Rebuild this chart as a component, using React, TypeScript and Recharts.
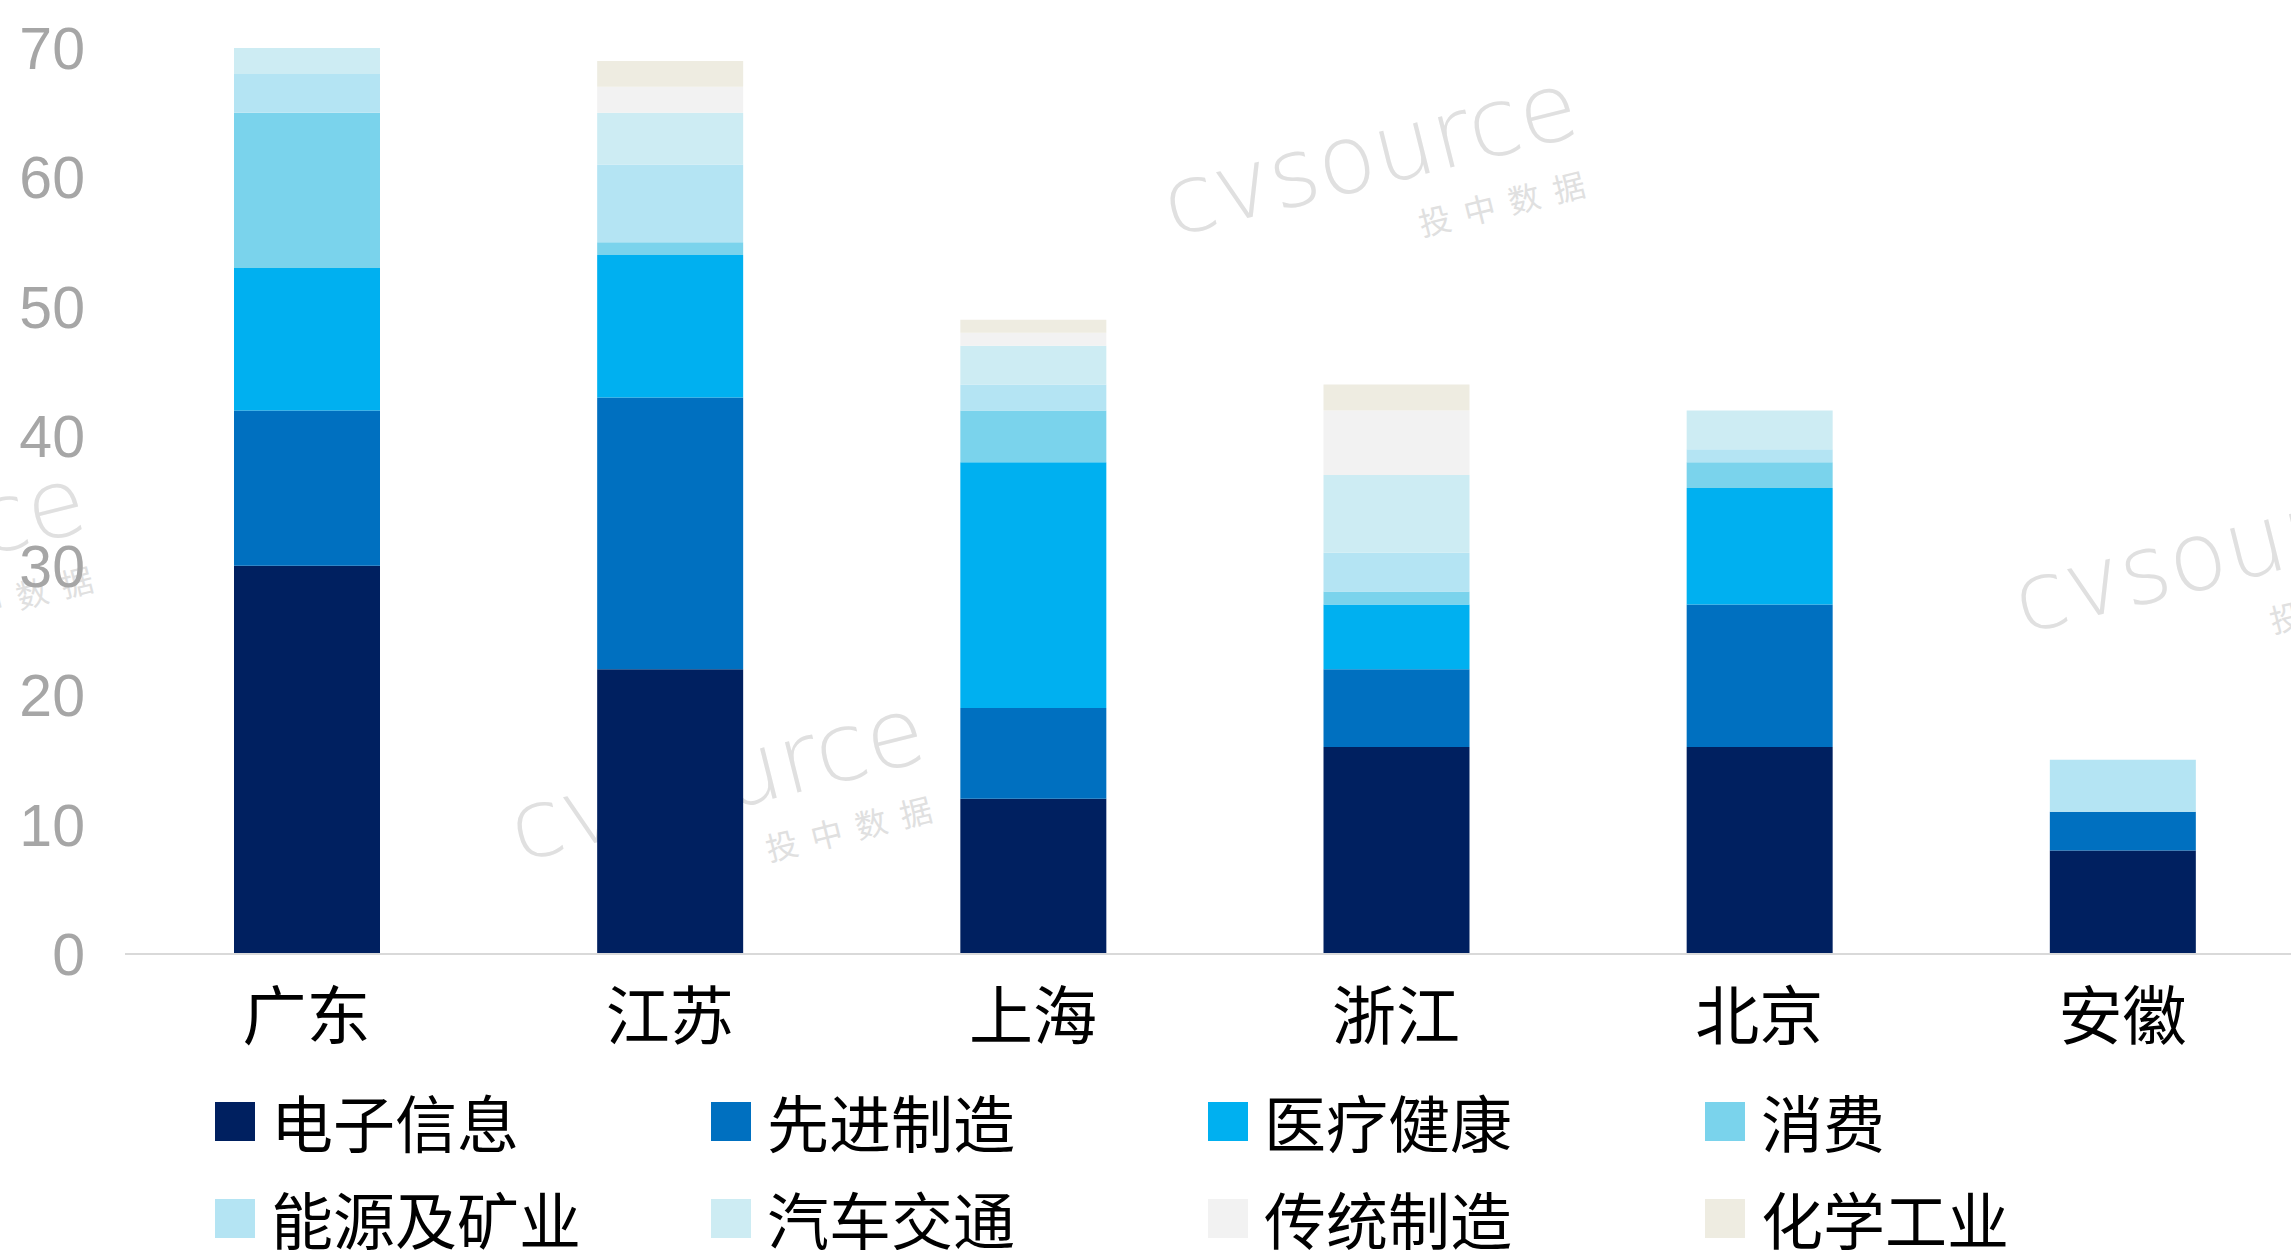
import React from 'react';
import { BarChart, Bar, XAxis, YAxis } from 'recharts';

const categories = ['广东', '江苏', '上海', '浙江', '北京', '安徽'];
const electronic = [30, 22, 12, 16, 16, 8];
const advanced = [12, 21, 7, 6, 11, 3];
const medical = [11, 11, 19, 5, 9, 0];
const consumer = [12, 1, 4, 1, 2, 0];
const energy = [3, 6, 2, 3, 1, 4];
const autoTraffic = [2, 4, 3, 6, 3, 0];
const traditional = [0, 2, 1, 5, 0, 0];
const chemical = [0, 2, 1, 2, 0, 0];
const yTicks = [0, 10, 20, 30, 40, 50, 60, 70];

const seriesNames = ['电子信息', '先进制造', '医疗健康', '消费', '能源及矿业', '汽车交通', '传统制造', '化学工业'];
const seriesValues = [electronic, advanced, medical, consumer, energy, autoTraffic, traditional, chemical];
const seriesColors = ['#002060', '#0070c0', '#00b0f0', '#7ad3ec', '#b4e4f3', '#cdecf3', '#f2f2f2', '#eeece1'];

const data = categories.map((name, i) => {
  const row: Record<string, string | number> = { name };
  seriesNames.forEach((s, k) => {
    row[s] = seriesValues[k][i];
  });
  return row;
});

const CJK = '"Noto Sans CJK SC", "Noto Sans", sans-serif';
const WM_COLOR = '#e0e0e0';

function Watermark({ x, y }: { x: number; y: number }) {
  return (
    <div style={{ position: 'absolute', left: x, top: y, transform: 'rotate(-14deg)', transformOrigin: '0 0' }}>
      <div
        style={{
          position: 'absolute', left: 0, top: -80, fontSize: 95, lineHeight: '95px', letterSpacing: 0,
          textTransform: 'lowercase', whiteSpace: 'nowrap', color: WM_COLOR, fontFamily: '"DejaVu Sans", sans-serif',
          fontWeight: 300,
        }}
      >
        CVSource
      </div>
      <div
        style={{
          position: 'absolute', left: 243, top: 30, fontSize: 32, lineHeight: '32px', letterSpacing: 14,
          whiteSpace: 'nowrap', color: WM_COLOR, fontFamily: CJK,
        }}
      >
        投中数据
      </div>
    </div>
  );
}

const legendLeft = [215, 711, 1208, 1705];
const legendRowCenter = [1121, 1218];

export default function App() {
  return (
    <div style={{ position: 'absolute', left: 0, top: 0, width: 2291, height: 1250, overflow: 'hidden', background: '#ffffff' }}>
      <Watermark x={1172} y={237} />
      <Watermark x={519} y={862} />
      <Watermark x={2023} y={634} />
      <Watermark x={-320} y={632} />
      <div style={{ position: 'absolute', left: 0, top: 0 }}>
        <BarChart width={2304} height={1060} data={data} margin={{ top: 48, right: 0, left: 0, bottom: 0 }}>
          <YAxis
            type="number"
            domain={[0, 70]}
            ticks={yTicks}
            width={125}
            axisLine={false}
            tickLine={false}
            tickSize={0}
            tickMargin={40}
            tick={{ fontSize: 59, fill: '#a6a6a6', fontFamily: '"Liberation Sans", Arial, sans-serif' }}
          />
          <XAxis
            dataKey="name"
            height={106}
            axisLine={{ stroke: '#d9d9d9', strokeWidth: 2 }}
            tickLine={false}
            tickSize={0}
            tickMargin={40}
            tick={{ fontSize: 64, fill: '#000000', fontFamily: CJK }}
            interval={0}
          />
          {seriesNames.map((s, k) => (
            <Bar key={s} dataKey={s} stackId="a" fill={seriesColors[k]} barSize={146} isAnimationActive={false} />
          ))}
        </BarChart>
      </div>
      {seriesNames.map((s, k) => {
        const col = k % 4;
        const row = Math.floor(k / 4);
        const cy = legendRowCenter[row];
        return (
          <div key={s} style={{ position: 'absolute', left: legendLeft[col], top: cy - 31, height: 62, display: 'flex', alignItems: 'center' }}>
            <div style={{ width: 40, height: 39, background: seriesColors[k] }} />
            <div style={{ marginLeft: 16, fontSize: 62, lineHeight: '62px', color: '#000000', fontFamily: CJK, whiteSpace: 'nowrap' }}>{s}</div>
          </div>
        );
      })}
    </div>
  );
}
